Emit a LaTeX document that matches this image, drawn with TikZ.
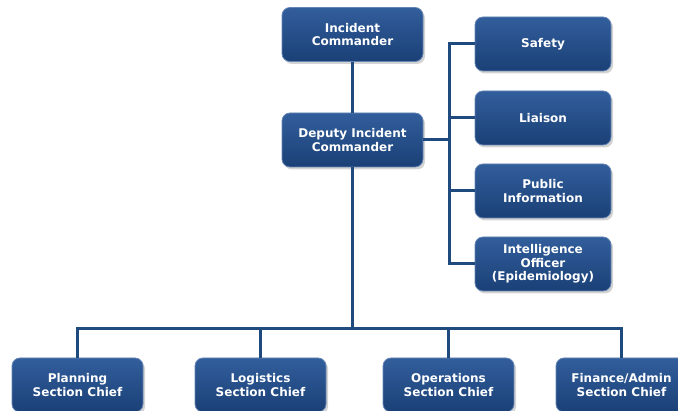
\documentclass[tikz,border=0pt]{standalone}
\usepackage{fontspec}
\setmainfont{DejaVu Sans}
\usetikzlibrary{shadows}

\definecolor{boxtop}{RGB}{50,94,156}
\definecolor{boxbot}{RGB}{26,64,118}
\definecolor{boxedge}{RGB}{100,132,180}
\definecolor{linkblue}{RGB}{31,74,126}

\tikzset{
  role/.style={draw=boxedge, line width=0.8pt, rounded corners=8pt,
    top color=boxtop, bottom color=boxbot, text=white,
    font=\bfseries\fontsize{12}{13.5}\selectfont, align=center,
    minimum height=54pt, inner sep=2pt,
    drop shadow={shadow xshift=2pt, shadow yshift=-2.5pt, opacity=0.35}},
  link/.style={draw=linkblue, line width=3pt}
}

\begin{document}
\begin{tikzpicture}[x=1pt, y=-1pt]
% Set the canvas to the reference size
\useasboundingbox (0,0) rectangle (678,411);

% Command staff
\node[role, minimum width=141pt] (ic) at (352.5,34.5) {Incident\\Commander};
\node[role, minimum width=141pt] (dic) at (352.5,140) {Deputy Incident\\Commander};

% Officers on the right
\node[role, minimum width=136pt] (safety) at (543,44) {Safety};
\node[role, minimum width=136pt] (liaison) at (543,118) {Liaison};
\node[role, minimum width=136pt] (pio) at (543,191) {Public\\Information};
\node[role, minimum width=136pt] (intel) at (543,264) {Intelligence\\Officer\\(Epidemiology)};

% Section chiefs along the bottom
\node[role, minimum width=131pt] (plan) at (77.5,385) {Planning\\Section Chief};
\node[role, minimum width=131pt] (logi) at (260.5,385) {Logistics\\Section Chief};
\node[role, minimum width=131pt] (ops) at (448.5,385) {Operations\\Section Chief};
\node[role, minimum width=131pt] (fin) at (621.5,385) {Finance/Admin\\Section Chief};

% Joints of the connectors
\coordinate (bus) at (352.5,329);
\coordinate (spine) at (449,140);
\coordinate (rtop) at (449,44);
\coordinate (rbot) at (449,264);

\draw[link] (ic) -- (dic);
\draw[link] (dic) -- (bus);
\draw[link] (plan.north) |- (bus) -| (fin.north);
\draw[link] (logi.north) -- (logi.north |- bus);
\draw[link] (ops.north) -- (ops.north |- bus);
\draw[link] (dic.east) -- (spine);
\draw[link] (safety.west) -- (rtop) -- (rbot) -- (intel.west);
\draw[link] (liaison.west) -- (liaison.west -| spine);
\draw[link] (pio.west) -- (pio.west -| spine);
\end{tikzpicture}
\end{document}
